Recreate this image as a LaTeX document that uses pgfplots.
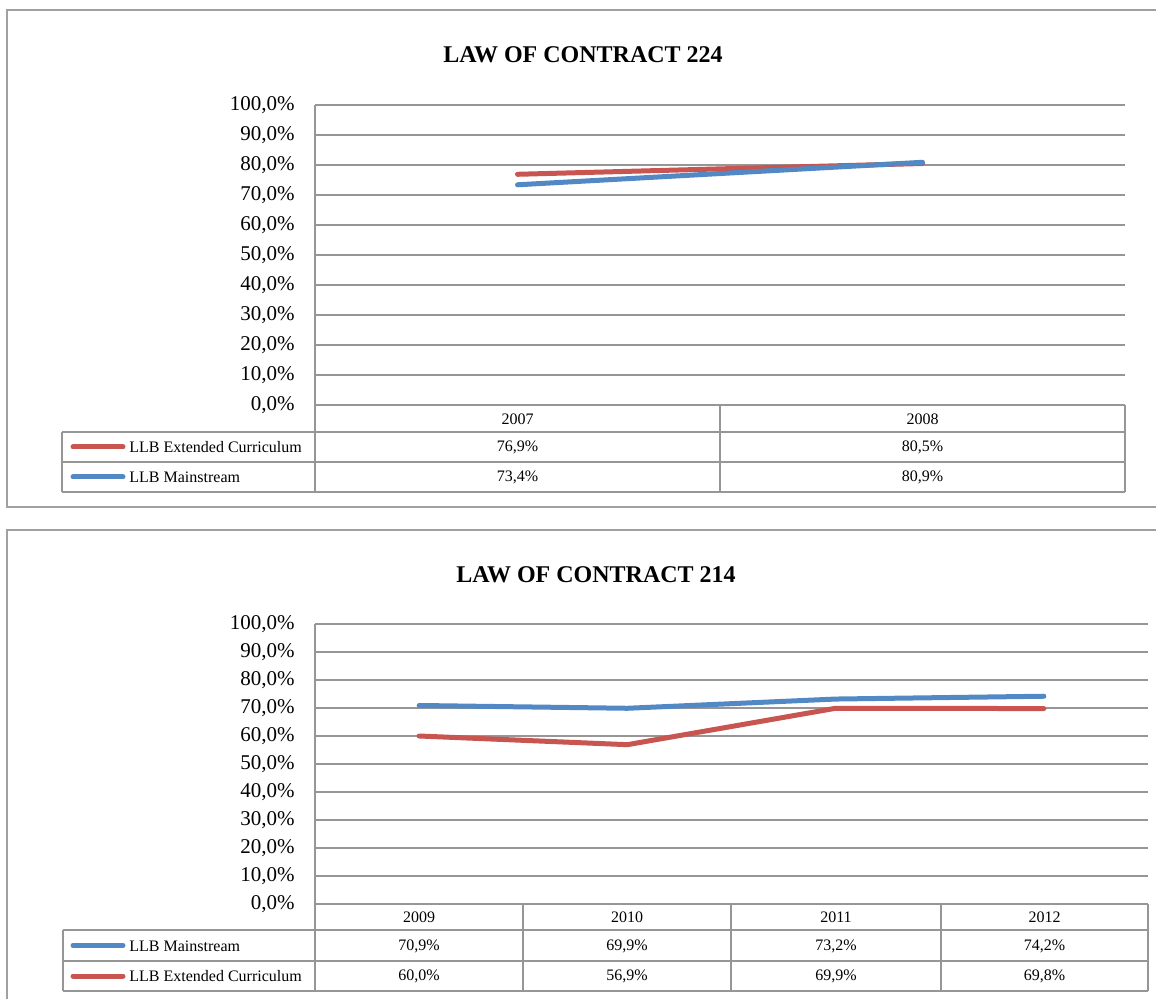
\documentclass[border=0pt]{standalone}
\usepackage{fontspec}
\setmainfont{Liberation Serif}
\usepackage{pgfplots}
\pgfplotsset{compat=1.18}
\definecolor{redser}{RGB}{200,85,80}
\definecolor{blueser}{RGB}{82,136,196}
\definecolor{gridgray}{RGB}{150,150,150}
\definecolor{framegray}{RGB}{160,160,160}

\pgfplotsset{lawaxis/.style={
  scale only axis, anchor=south west,
  ymin=0, ymax=100,
  ytick={0,10,...,100},
  yticklabels={{0,0\%},{10,0\%},{20,0\%},{30,0\%},{40,0\%},{50,0\%},{60,0\%},{70,0\%},{80,0\%},{90,0\%},{100,0\%}},
  yticklabel style={font=\fontsize{10.5}{12}\selectfont, anchor=east, inner sep=0pt, xshift=-10pt},
  xtick=\empty,
  major tick length=0pt,
  ymajorgrids,
  grid style={draw=gridgray, line width=1pt},
  axis line style={draw=none},
  clip=false,
}}

\begin{document}
\begin{tikzpicture}
\path[use as bounding box] (0,0) rectangle (578pt,-499.5pt);

% ---------- top chart ----------
\begin{axis}[lawaxis, at={(157.5pt,-202.5pt)}, width=405pt, height=150pt,
  xmin=-0.5, xmax=1.5]
\addplot[redser, line width=2.5pt, line cap=round, line join=round] coordinates {(0,76.9) (1,80.5)};
\addplot[blueser, line width=2.5pt, line cap=round, line join=round] coordinates {(0,73.4) (1,80.9)};
\end{axis}

% ---------- bottom chart ----------
\begin{axis}[lawaxis, at={(157.5pt,-452pt)}, width=416.5pt, height=140pt,
  xmin=-0.5, xmax=3.5]
\addplot[blueser, line width=2.5pt, line cap=round, line join=round] coordinates {(0,70.9) (1,69.9) (2,73.2) (3,74.2)};
\addplot[redser, line width=2.5pt, line cap=round, line join=round] coordinates {(0,60.0) (1,56.9) (2,69.9) (3,69.8)};
\end{axis}

\begin{scope}[x=0.5pt,y=-0.5pt]
\clip (0,0) rectangle (1156,999);
% outer frames
\draw[framegray, line width=1pt] (1170,10) -- (7,10) -- (7,507) -- (1170,507);
\draw[framegray, line width=1pt] (1170,530) -- (7,530) -- (7,1010);

\node[font=\bfseries\fontsize{12}{14}\selectfont] at (583,55) {LAW OF CONTRACT 224};
\node[font=\bfseries\fontsize{12}{14}\selectfont] at (596,575) {LAW OF CONTRACT 214};

% top table
\begin{scope}[draw=gridgray, line width=1pt]
\draw (315,105) -- (315,492);
\draw (62,432) -- (1125,432);
\draw (62,462) -- (1125,462);
\draw (62,492) -- (1125,492);
\draw (62,432) -- (62,492);
\draw (720,405) -- (720,492);
\draw (1125,405) -- (1125,492);
\end{scope}
\draw[redser, line width=2.5pt, line cap=round] (73,447) -- (123,447);
\draw[blueser, line width=2.5pt, line cap=round] (73,477) -- (123,477);
\begin{scope}[every node/.style={font=\fontsize{8}{9.5}\selectfont, inner sep=0pt}]
\node[anchor=west] at (129,447.5) {LLB Extended Curriculum};
\node[anchor=west] at (129,477.5) {LLB Mainstream};
\node at (517.5,419.5) {2007};
\node at (922.5,419.5) {2008};
\node at (517.5,447.5) {76,9\%};
\node at (922.5,447.5) {80,5\%};
\node at (517.5,477.5) {73,4\%};
\node at (922.5,477.5) {80,9\%};
\end{scope}

% bottom table
\begin{scope}[draw=gridgray, line width=1pt]
\draw (315,624) -- (315,991);
\draw (63,930) -- (1148,930);
\draw (63,961) -- (1148,961);
\draw (63,991) -- (1148,991);
\draw (63,930) -- (63,991);
\draw (523,904) -- (523,991);
\draw (731,904) -- (731,991);
\draw (941,904) -- (941,991);
\draw (1148,904) -- (1148,991);
\end{scope}
\draw[blueser, line width=2.5pt, line cap=round] (73,945.5) -- (123,945.5);
\draw[redser, line width=2.5pt, line cap=round] (73,976) -- (123,976);
\begin{scope}[every node/.style={font=\fontsize{8}{9.5}\selectfont, inner sep=0pt}]
\node[anchor=west] at (129,946) {LLB Mainstream};
\node[anchor=west] at (129,976.5) {LLB Extended Curriculum};
\node at (419,917.5) {2009};
\node at (627,917.5) {2010};
\node at (836,917.5) {2011};
\node at (1044.5,917.5) {2012};
\node at (419,946) {70,9\%};
\node at (627,946) {69,9\%};
\node at (836,946) {73,2\%};
\node at (1044.5,946) {74,2\%};
\node at (419,976.5) {60,0\%};
\node at (627,976.5) {56,9\%};
\node at (836,976.5) {69,9\%};
\node at (1044.5,976.5) {69,8\%};
\end{scope}
\end{scope}
\end{tikzpicture}
\end{document}
